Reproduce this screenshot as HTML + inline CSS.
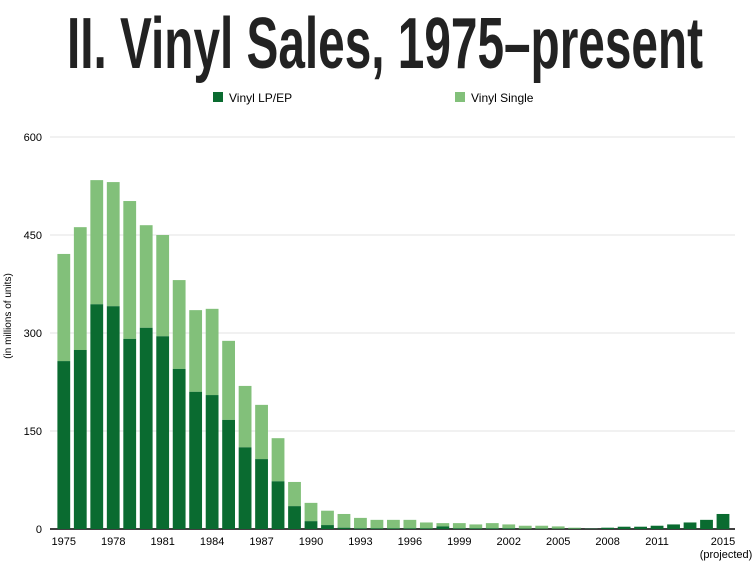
<!DOCTYPE html>
<html><head><meta charset="utf-8"><style>
body{margin:0;background:#fff;width:755px;height:564px;overflow:hidden;font-family:"Liberation Sans",sans-serif}
</style></head><body>
<svg width="755" height="564" id="chart" font-family="Liberation Sans, sans-serif">
<text x="385" y="68" text-anchor="middle" font-family="Liberation Sans Narrow, Liberation Sans, sans-serif" font-weight="bold" font-size="72" fill="#222" textLength="636" lengthAdjust="spacingAndGlyphs">II. Vinyl Sales, 1975–present</text>
<g>
<rect x="213" y="92" width="10" height="10" fill="#0a6b30"/>
<text x="229" y="102" font-size="12" fill="#000">Vinyl LP/EP</text>
<rect x="455" y="92" width="10" height="10" fill="#82c07a"/>
<text x="471" y="102" font-size="12" fill="#000">Vinyl Single</text>
</g>
<text transform="translate(11,316) rotate(-90)" text-anchor="middle" font-size="10" fill="#000">(in millions of units)</text>
<g id="grid"></g><g id="bars"></g><g id="xt"></g>
</svg>
<script>
const years=[];for(let y=1975;y<=2015;y++)years.push(y);
const lpValues=[257,274,344,341,291,308,295,245,210,205,167,125,107,73,35,12,6,2,1,1,1,1,1,4,1,1,1,1,0.5,0.5,0.5,0.5,0.5,2,3.5,3.5,5,7,10,14,23];
const totalValues=[421,462,534,531,502,465,450,381,335,337,288,219,190,139,72,40,28,23,17,14,14,14,10,9,9,7,9,7,5,5,4,2,0.5,2,3.5,3.5,5,7,10,14,23];
const yTicks=[0,150,300,450,600];
const xTickYears=[1975,1978,1981,1984,1987,1990,1993,1996,1999,2002,2005,2008,2011,2015];
const NS="http://www.w3.org/2000/svg";
const y0=529,pxPer=392/600;
function yS(v){return y0-v*pxPer;}
function xS(yr){return 63.8+(yr-1975)*16.48;}
function mk(t,a,p){const e=document.createElementNS(NS,t);for(const k in a)e.setAttribute(k,a[k]);p.appendChild(e);return e;}
const grid=document.getElementById('grid');
yTicks.forEach(v=>{
 const l=mk('line',{x1:50,x2:735,y1:yS(v),y2:yS(v),stroke:v===0?'#000':'#e3e3e3','stroke-width':v===0?1.5:1},grid);
 
 
 const t=mk('text',{x:42,y:yS(v)+4,'text-anchor':'end','font-size':11},grid);t.textContent=v;
 
 
});
const bars=document.getElementById('bars');
years.forEach((yr,i)=>{
 const x=xS(yr)-6.4,w=12.8;
 const s=mk('rect',{x:x,y:yS(totalValues[i]),width:w,height:(totalValues[i]-lpValues[i])*pxPer,fill:'#82c07a'},bars);
 
 
 const b=mk('rect',{x:x,y:yS(lpValues[i]),width:w,height:lpValues[i]*pxPer,fill:'#0a6b30'},bars);
 
 
});
const xt=document.getElementById('xt');
xTickYears.forEach(yr=>{
 const t=mk('text',{x:xS(yr),y:545,'text-anchor':'middle','font-size':11},xt);t.textContent=yr;
 
 
});
const p=mk('text',{x:xS(2015)+3,y:558,'text-anchor':'middle','font-size':11},xt);p.textContent='(projected)';


</script>
</body></html>
